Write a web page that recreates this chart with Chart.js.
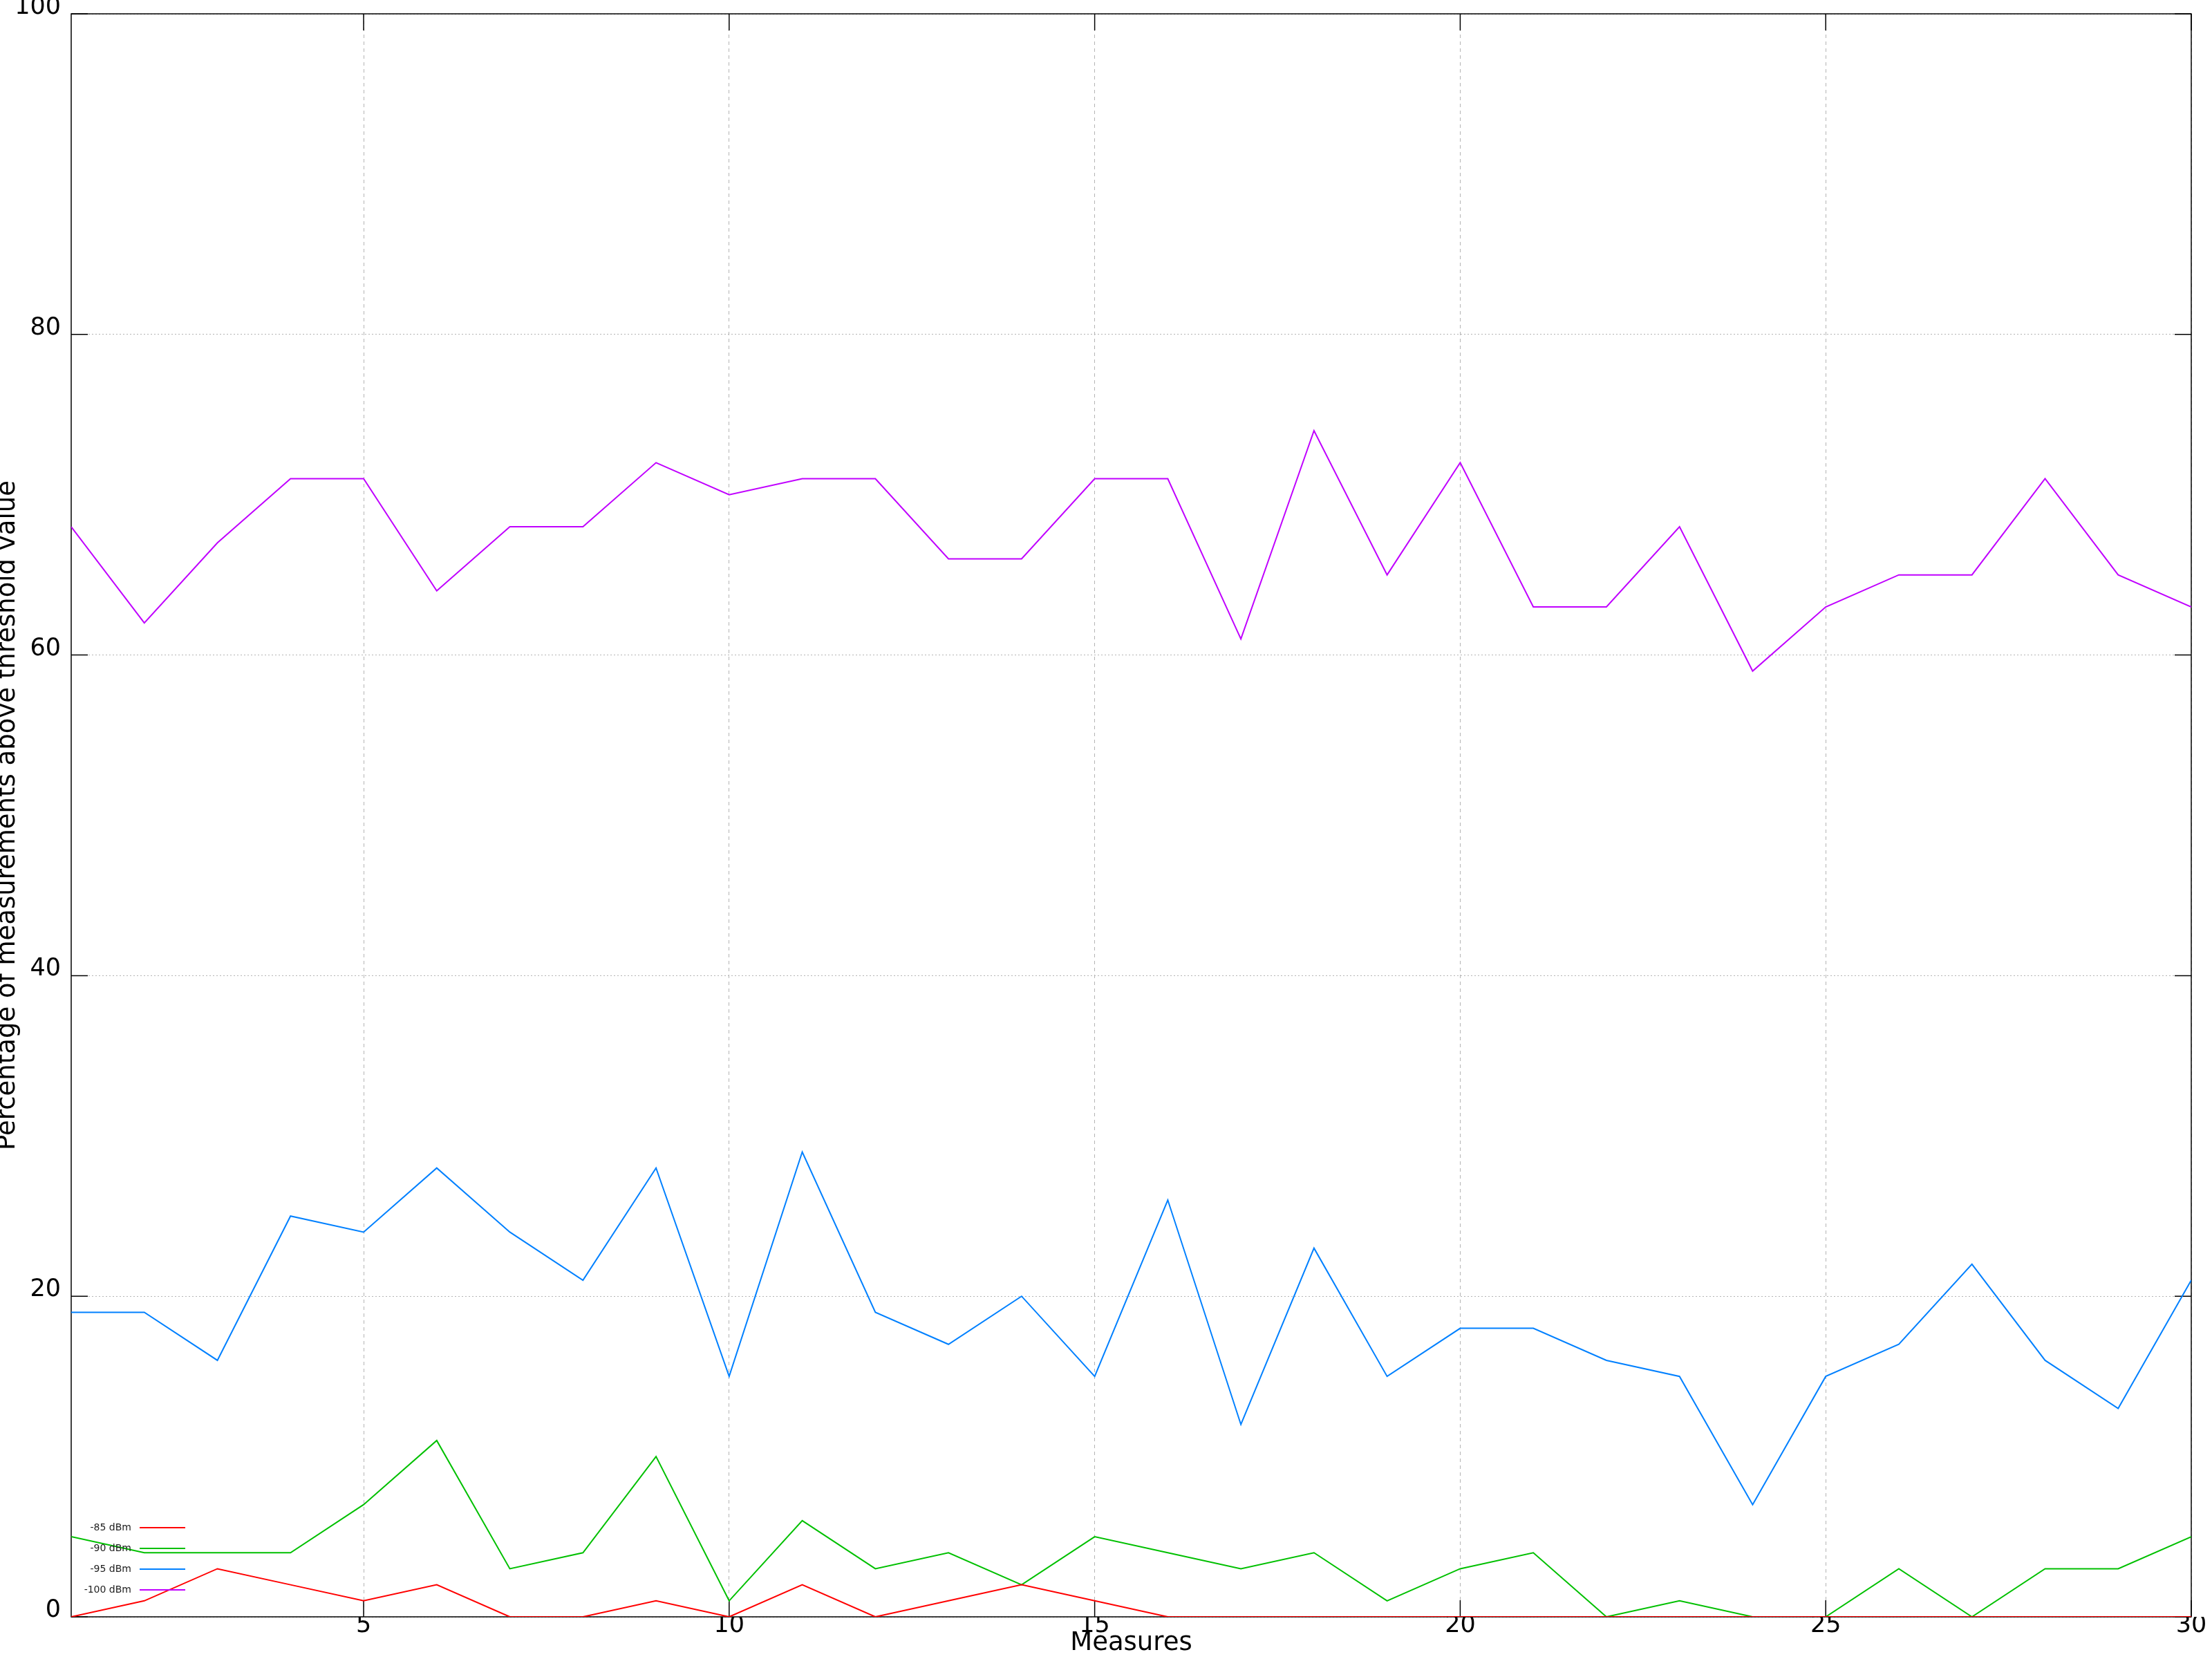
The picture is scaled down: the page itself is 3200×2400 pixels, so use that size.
<!DOCTYPE html>
<html>
<head>
<meta charset="utf-8">
<script src="https://cdn.jsdelivr.net/npm/chart.js@4.4.1/dist/chart.umd.min.js"></script>
<style>
  html, body { margin: 0; padding: 0; background: #fff; }
  canvas { display: block; }
</style>
</head>
<body>
<canvas id="chart" width="3200" height="2400"></canvas>
<script>
// measure index on the x axis
const measures = [1, 2, 3, 4, 5, 6, 7, 8, 9, 10, 11, 12, 13, 14, 15,
                  16, 17, 18, 19, 20, 21, 22, 23, 24, 25, 26, 27, 28, 29, 30];

// percentage of measurements above each threshold
const dbm85  = [0, 1, 3, 2, 1, 2, 0, 0, 1, 0, 2, 0, 1, 2, 1,
                0, 0, 0, 0, 0, 0, 0, 0, 0, 0, 0, 0, 0, 0, 0];
const dbm90  = [5, 4, 4, 4, 7, 11, 3, 4, 10, 1, 6, 3, 4, 2, 5,
                4, 3, 4, 1, 3, 4, 0, 1, 0, 0, 3, 0, 3, 3, 5];
const dbm95  = [19, 19, 16, 25, 24, 28, 24, 21, 28, 15, 29, 19, 17, 20, 15,
                26, 12, 23, 15, 18, 18, 16, 15, 7, 15, 17, 22, 16, 13, 21];
const dbm100 = [68, 62, 67, 71, 71, 64, 68, 68, 72, 70, 71, 71, 66, 66, 71,
                71, 61, 74, 65, 72, 63, 63, 68, 59, 63, 65, 65, 71, 65, 63];

const seriesLabels = ['-85 dBm', '-90 dBm', '-95 dBm', '-100 dBm'];
const seriesColors = ['#ff0000', '#00c000', '#0080ff', '#c000ff'];
const xTicks = [5, 10, 15, 20, 25, 30];

Chart.defaults.font.family = '"DejaVu Sans", sans-serif';
Chart.defaults.color = '#000';

//pair every value with its measure index
function toPoints(values) {
  return values.map((v, i) => ({x: measures[i], y: v}));
}

//frame and inward ticks, gnuplot style
const frame = {
  id: 'frame',
  beforeDatasetsDraw(chart) {
    const {ctx, chartArea: a, scales: {x, y}} = chart;
    const len = 24;
    ctx.save();
    ctx.strokeStyle = '#000';
    ctx.lineWidth = 1.5;
    ctx.strokeRect(a.left, a.top, a.right - a.left, a.bottom - a.top);
    ctx.beginPath();
    x.ticks.forEach((t) => {
      const px = x.getPixelForValue(t.value);
      ctx.moveTo(px, a.bottom); ctx.lineTo(px, a.bottom - len);
      ctx.moveTo(px, a.top); ctx.lineTo(px, a.top + len);
    });
    y.ticks.forEach((t) => {
      const py = y.getPixelForValue(t.value);
      ctx.moveTo(a.left, py); ctx.lineTo(a.left + len, py);
      ctx.moveTo(a.right, py); ctx.lineTo(a.right - len, py);
    });
    ctx.stroke();
    ctx.restore();
  },
  //small legend in the lower left corner
  afterDatasetsDraw(chart) {
    const {ctx, chartArea: a} = chart;
    ctx.save();
    ctx.font = '14px "DejaVu Sans"';
    ctx.textAlign = 'right';
    ctx.textBaseline = 'middle';
    ctx.lineWidth = 2;
    chart.data.datasets.forEach((ds, i) => {
      const yy = a.bottom - 129 + i * 30;
      ctx.fillStyle = '#222';
      ctx.fillText(ds.label, a.left + 87, yy);
      ctx.strokeStyle = ds.borderColor;
      ctx.beginPath();
      ctx.moveTo(a.left + 99, yy);
      ctx.lineTo(a.left + 165, yy);
      ctx.stroke();
    });
    ctx.restore();
  }
};

const chart = new Chart(document.getElementById('chart'), {
  type: 'line',
  data: {
    datasets: [dbm85, dbm90, dbm95, dbm100].map((values, i) => ({
      label: seriesLabels[i],
      data: toPoints(values),
      borderColor: seriesColors[i],
      borderWidth: 2,
      pointRadius: 0,
      tension: 0,
      fill: false
    }))
  },
  options: {
    responsive: false,
    animation: false,
    devicePixelRatio: 1,
    layout: { padding: { top: 20, right: 30, left: 0, bottom: 0 } },
    plugins: {
      legend: { display: false },
      tooltip: { enabled: false }
    },
    scales: {
      x: {
        type: 'linear',
        min: 1,
        max: 30,
        afterBuildTicks: (scale) => { scale.ticks = xTicks.map((v) => ({value: v})); },
        afterFit: (scale) => {
          scale.height = 61;
          scale.paddingLeft = 0;
          scale.paddingRight = 0;
        },
        ticks: { font: { size: 35 }, padding: -8, maxRotation: 0 },
        grid: { color: '#b4b4b4', lineWidth: 1, drawTicks: false },
        border: { display: false, dash: [5, 5] },
        title: {
          display: true,
          text: 'Measures',
          font: { size: 37, lineHeight: 1.2 },
          padding: { top: 0, bottom: 0 }
        }
      },
      y: {
        min: 0,
        max: 100,
        afterFit: (scale) => {
          scale.width = 103;
          scale.paddingTop = 0;
          scale.paddingBottom = 0;
        },
        ticks: { stepSize: 20, font: { size: 35 }, padding: 15, labelOffset: -9 },
        grid: { color: '#b4b4b4', lineWidth: 1, drawTicks: false },
        border: { display: false, dash: [2, 3] },
        title: {
          display: true,
          text: 'Percentage of measurements above threshold value',
          font: { size: 37, lineHeight: 1.2 },
          padding: { top: -11, bottom: 0 }
        }
      }
    }
  },
  plugins: [frame]
});
</script>
</body>
</html>
